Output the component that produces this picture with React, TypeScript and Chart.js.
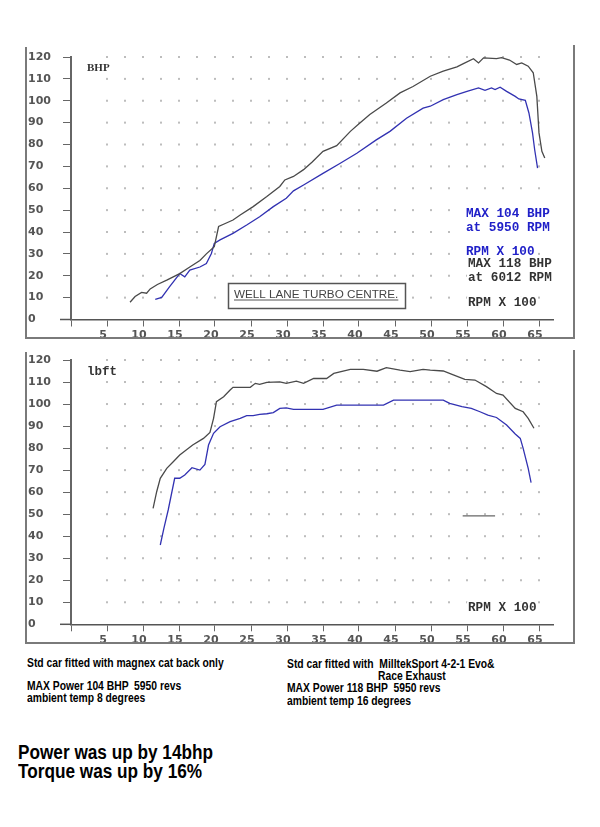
import { useEffect, useRef } from 'react';
import type { CSSProperties } from 'react';
import Chart, { ChartConfiguration, Plugin } from 'chart.js/auto';

// top chart: power (BHP) against RPM x 100
const milltekPowerRpm = [8.2, 8.9, 9.8, 10.5, 11, 12, 13.3, 14.2, 15.1, 16.5, 17.9, 18.8, 19.9, 20.5, 21.5, 22.5, 23.5, 25.3, 27.2, 29, 29.7, 30.9, 32.3, 33.5, 35, 36.9, 38.8, 40, 41.5, 43.8, 45.7, 47.5, 49.9, 51.7, 53.6, 54.5, 55.9, 56.6, 57.3, 59.1, 59.8, 60.9, 61.9, 62.6, 63.5, 64.2, 64.7, 65, 65.4, 65.8];
const milltekPower = [7.9, 10.5, 12.4, 12, 14, 16, 18, 19.5, 21, 24, 27, 30, 33.3, 42.5, 44, 45.5, 47.8, 51.6, 56.2, 60.8, 63.8, 65.4, 68.5, 72, 76.9, 79.5, 86, 89.5, 93.7, 99, 103.6, 106.5, 111.2, 113.5, 115.5, 117, 119.2, 117.3, 119.6, 119.3, 119.7, 118.6, 116.6, 117.3, 115.8, 112.8, 102, 85.3, 76.9, 73.8];
const magnexPowerRpm = [11.7, 12.6, 13.7, 15.1, 15.8, 16.5, 17.9, 18.8, 19.5, 19.9, 20.7, 22.5, 24.4, 26.2, 28.1, 29.9, 30.9, 32.3, 35, 37.4, 39.7, 42.4, 44.3, 46.6, 48.9, 49.9, 51.7, 53.6, 55, 56.6, 57.5, 58.4, 58.9, 59.6, 60.5, 61.7, 62.2, 63.1, 63.6, 64.1, 64.4, 64.8];
const magnexPower = [9.2, 10.1, 15, 21, 19.5, 22.6, 24, 25.6, 30.2, 34.8, 36.4, 39.4, 43.2, 47, 51.6, 55.4, 58.8, 61.5, 66.8, 71.4, 76, 82.1, 86, 92, 96.6, 97.5, 100.5, 102.8, 104.3, 105.9, 104.8, 105.9, 105.1, 106.2, 104.3, 102, 100.8, 100.2, 94.4, 85.3, 77.6, 69.2];

// bottom chart: torque (lb ft) against RPM x 100
const milltekTorqueRpm = [11.4, 11.9, 12.4, 13.3, 14.2, 15.1, 16, 16.9, 18.4, 19.3, 19.8, 20.2, 21.2, 22.1, 22.5, 24.9, 25.6, 26.2, 27.2, 29, 29.9, 31.3, 32.3, 33.7, 35.5, 36.5, 38.8, 40.6, 42.5, 43.8, 45.7, 47.1, 48.9, 49.9, 51.7, 53.1, 54.7, 56.1, 57.7, 59.1, 60, 61.7, 62.8, 63.5, 64.3];
const milltekTorque = [52.6, 60.2, 66.3, 70.8, 73.8, 76.9, 79.1, 81.4, 84.4, 87.1, 93.5, 101.1, 103.3, 106.4, 107.6, 107.6, 109.4, 108.9, 109.8, 110.1, 109.4, 110.4, 109.4, 111.6, 111.6, 113.9, 115.7, 115.7, 114.9, 116.5, 115.4, 114.7, 115.7, 115.4, 115, 113.2, 111.2, 110.9, 107.9, 104.8, 104.1, 98, 96.5, 93.5, 89];
const magnexTorqueRpm = [12.4, 12.9, 13.5, 14.4, 15.1, 15.8, 16.8, 17.9, 18.6, 19.1, 19.8, 20.7, 22.1, 23.5, 24.4, 25.3, 26.2, 27.2, 28.1, 29, 29.9, 30.9, 35, 36.9, 43.4, 44.8, 51.7, 52.6, 54.3, 55.6, 56.8, 57.9, 59.1, 60.5, 61.7, 62.4, 62.8, 63.5, 63.9];
const magnexTorque = [36, 43.6, 51.9, 66.3, 66.3, 67.8, 71.1, 70, 72.6, 81.4, 86.7, 89.7, 92, 93.5, 94.7, 94.7, 95.3, 95.6, 96.1, 98, 98.3, 97.6, 97.6, 99.5, 99.5, 101.8, 101.8, 100.3, 98.8, 98, 96.5, 95, 93.9, 90.5, 86.4, 84.4, 79.9, 70.8, 64.3];

// short stray trace on the torque sheet
const strayRpm = [54.4, 58.9];
const strayTorque = [49.2, 49.2];

const GREY = '#4a4a4a';
const BLUE = '#3232b2';
const TICK_FONT = { family: '"DejaVu Sans", Verdana, sans-serif', size: 11, weight: 'bold' as const };

type Kind = 'power' | 'torque';

const toPoints = (xs: number[], ys: number[]) => xs.map((x, i) => ({ x, y: ys[i] }));

const monoLine = (ctx: CanvasRenderingContext2D, text: string, x: number, y: number, color: string) => {
  const w = ctx.measureText(text).width;
  ctx.fillStyle = '#fff';
  ctx.fillRect(x - 1, y - 7, w + 2, 14);
  ctx.fillStyle = color;
  ctx.fillText(text, x, y);
};

const dynoPaper = (kind: Kind): Plugin<'line'> => ({
  id: 'dynoPaper',
  beforeDatasetsDraw(chart) {
    const { ctx, chartArea } = chart;
    const x = chart.scales.x;
    const y = chart.scales.y;
    ctx.save();

    // dotted grid
    ctx.fillStyle = '#bdbdbd';
    for (let r = 5; r <= 65; r += 2.5) {
      for (let v = 10; v <= 120; v += 10) {
        ctx.fillRect(x.getPixelForValue(r) - 1, y.getPixelForValue(v) - 1, 2, 2);
      }
    }

    // sheet frame (no top edge)
    ctx.strokeStyle = '#7a7a7a';
    ctx.lineWidth = 2;
    ctx.beginPath();
    ctx.moveTo(26, 7);
    ctx.lineTo(26, 298);
    ctx.lineTo(574, 298);
    ctx.lineTo(574, 5);
    ctx.stroke();

    // x axis runs a little past the y axis
    ctx.strokeStyle = '#555';
    ctx.lineWidth = 1.5;
    ctx.beginPath();
    ctx.moveTo(60, chartArea.bottom);
    ctx.lineTo(chartArea.left, chartArea.bottom);
    ctx.stroke();

    ctx.textBaseline = 'middle';
    ctx.textAlign = 'left';
    if (kind === 'power') {
      ctx.fillStyle = '#333';
      ctx.font = 'bold 11px "Liberation Serif", serif';
      ctx.fillText('BHP', 87, 28);

      ctx.font = 'bold 12.7px "Liberation Mono", monospace';
      monoLine(ctx, 'MAX 104 BHP', 466, 174.3, '#2020c8');
      monoLine(ctx, 'at 5950 RPM', 466, 187.7, '#2020c8');
      monoLine(ctx, 'RPM X 100', 466, 211.7, '#2020c8');
      monoLine(ctx, 'MAX 118 BHP', 468, 224, '#333');
      monoLine(ctx, 'at 6012 RPM', 468, 237.7, '#333');
      monoLine(ctx, 'RPM X 100', 468, 263.3, '#333');

      // workshop stamp
      ctx.fillStyle = '#fff';
      ctx.fillRect(228.5, 243.5, 177, 25);
      ctx.strokeStyle = '#555';
      ctx.lineWidth = 1.5;
      ctx.strokeRect(228.5, 243.5, 177, 25);
      ctx.font = '11.7px "Liberation Sans", Arial, sans-serif';
      ctx.fillStyle = '#444';
      const stamp = 'WELL LANE TURBO CENTRE.';
      ctx.fillText(stamp, 234, 255);
      const sw = ctx.measureText(stamp).width;
      ctx.lineWidth = 1;
      ctx.beginPath();
      ctx.moveTo(234, 260);
      ctx.lineTo(234 + sw, 260);
      ctx.stroke();
    } else {
      ctx.font = 'bold 12.5px "Liberation Mono", monospace';
      ctx.fillStyle = '#333';
      ctx.fillText('lbft', 87, 27);
      ctx.font = 'bold 12.7px "Liberation Mono", monospace';
      monoLine(ctx, 'RPM X 100', 468, 263.3, '#333');
    }
    ctx.restore();
  },
});

const getConfig = (kind: Kind): ChartConfiguration<'line'> => {
  const isPower = kind === 'power';
  const areaTop = isPower ? 17 : 15;
  const areaBottom = isPower ? 279.5 : 279.3;
  const line = (data: { x: number; y: number }[], color: string) => ({
    data,
    borderColor: color,
    borderWidth: 1.3,
    pointRadius: 0,
    tension: 0,
    fill: false,
  });
  const datasets = isPower
    ? [line(toPoints(milltekPowerRpm, milltekPower), GREY), line(toPoints(magnexPowerRpm, magnexPower), BLUE)]
    : [
        line(toPoints(milltekTorqueRpm, milltekTorque), GREY),
        line(toPoints(magnexTorqueRpm, magnexTorque), BLUE),
        line(toPoints(strayRpm, strayTorque), '#666'),
      ];

  return {
    type: 'line',
    data: { datasets },
    options: {
      responsive: false,
      animation: false,
      layout: { padding: { left: 28, right: 46.6, top: areaTop, bottom: 0 } },
      plugins: { legend: { display: false }, tooltip: { enabled: false } },
      scales: {
        x: {
          type: 'linear',
          min: 0,
          max: 67,
          afterFit: (scale) => {
            scale.height = 305 - areaBottom;
          },
          ticks: {
            stepSize: 5,
            includeBounds: false,
            autoSkip: false,
            maxRotation: 0,
            labelOffset: -4,
            padding: 2,
            color: '#555',
            font: TICK_FONT,
            callback: (v) => (Number(v) === 0 || Number(v) % 5 !== 0 ? '' : String(v)),
          },
          grid: { drawOnChartArea: false, drawTicks: true, tickLength: 7, color: '#666', lineWidth: 1 },
          border: { color: '#555', width: 1.5 },
        },
        y: {
          type: 'linear',
          min: 0,
          max: 120,
          afterFit: (scale) => {
            scale.width = 43;
          },
          ticks: {
            stepSize: 10,
            crossAlign: 'far',
            color: '#555',
            font: TICK_FONT,
          },
          grid: { drawOnChartArea: false, drawTicks: true, tickLength: 8, color: '#666', lineWidth: 1 },
          border: { color: '#666', width: 2 },
        },
      },
    },
    plugins: [dynoPaper(kind)],
  };
};

interface Props {
  kind: Kind;
  top: number;
}

const DynoChart = ({ kind, top }: Props) => {
  const canvasRef = useRef<HTMLCanvasElement>(null);

  useEffect(() => {
    const context = canvasRef.current?.getContext('2d');
    if (!context) return;
    const chart = new Chart(context, getConfig(kind));
    return () => {
      chart.destroy();
    };
  }, [kind]);

  return (
    <canvas
      ref={canvasRef}
      width={600}
      height={305}
      style={{ position: 'absolute', left: 0, top, width: 600, height: 305 }}
    />
  );
};

const note = (left: number, top: number, size = 12, lh = 12): CSSProperties => ({
  position: 'absolute',
  left,
  top,
  margin: 0,
  fontFamily: '"Liberation Sans", Arial, sans-serif',
  fontWeight: 'bold',
  fontSize: size,
  lineHeight: `${lh}px`,
  whiteSpace: 'pre',
  color: '#000',
  transform: 'scaleX(0.86)',
  transformOrigin: 'left center',
});

const App = () => {
  useEffect(() => {
    document.body.style.margin = '0';
    document.body.style.background = '#fff';
  }, []);

  return (
    <div style={{ position: 'relative', width: 600, height: 827, overflow: 'hidden', background: '#fff' }}>
      <DynoChart kind="power" top={40} />
      <DynoChart kind="torque" top={345} />

      <div style={note(27, 657)}>Std car fitted with magnex cat back only</div>
      <div style={note(27, 680)}>MAX Power 104 BHP  5950 revs</div>
      <div style={note(27, 692)}>ambient temp 8 degrees</div>

      <div style={note(287, 658)}>Std car fitted with  MilltekSport 4-2-1 Evo&amp;</div>
      <div style={note(378, 670)}>Race Exhaust</div>
      <div style={note(287, 682)}>MAX Power 118 BHP  5950 revs</div>
      <div style={note(287, 695)}>ambient temp 16 degrees</div>

      <div style={note(18, 743, 20, 19)}>
        Power was up by 14bhp{'\n'}Torque was up by 16%
      </div>
    </div>
  );
};

export default App;
